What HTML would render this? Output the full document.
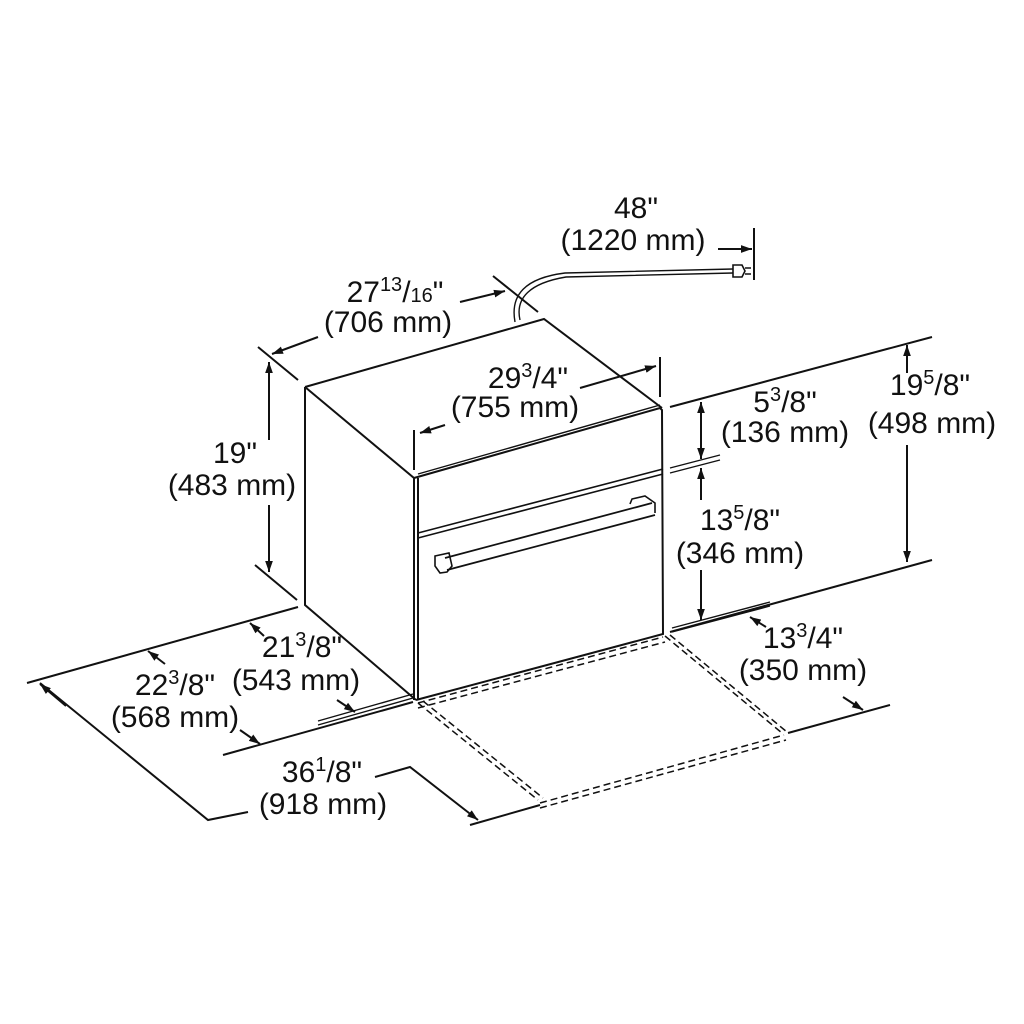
<!DOCTYPE html>
<html><head><meta charset="utf-8"><style>
html,body{margin:0;padding:0;background:#fff}
svg{display:block}
text{font-family:"Liberation Sans",Arial,sans-serif;font-size:30px;fill:#111;text-anchor:middle}
.s{font-size:20px}
</style></head><body>
<svg width="1024" height="1024" viewBox="0 0 1024 1024" xmlns="http://www.w3.org/2000/svg">
<defs>
<marker id="a" viewBox="0 0 10 10" refX="10" refY="5" markerWidth="11" markerHeight="11" orient="auto-start-reverse" markerUnits="userSpaceOnUse"><path d="M0,1.5 L10,5 L0,8.5 z" fill="#111"/></marker>
</defs>
<g stroke="#111" stroke-width="2" fill="none">
<path d="M305,387 L544,319 L662,408"/>
<path d="M305,387 L414,478"/>
<path d="M305,387 L305,605 L416,700"/>
<path d="M414,478 L660,408 L662,410 L663,634 L416,700"/>
<path d="M414,478 L414,700 M418,478 L418,700"/>
<path d="M418,474 L660,405" stroke-width="1.4"/>
<path d="M418,538 L663,474 M418,533 L663,469" stroke-width="1.6"/>
<path d="M447,570 L655,515 M445,558 L652,503" stroke-width="1.8"/>
<path d="M435,556 L449,553 L452,566 L447,572 L440,573 L435,566 Z M630,504 L632,499 L645,496 L655,503 L655,513" stroke-width="1.6"/>
<path d="M515,322 C510,295 525,278 565,273 L733,269 M520,320 C515,298 530,283 566,277 L733,273" stroke-width="1.4"/>
<path d="M733,265 L742,265 L745,271 L742,277 L733,277 Z M745,268 L751,268 M745,274 L751,274" stroke-width="1.6"/>
<path d="M754,228 L754,280"/>
<path d="M718,249 L752,249" marker-end="url(#a)"/>
<path d="M258,347 L298,380 M493,276 L538,312"/>
<path d="M318,337 L272,354" marker-end="url(#a)"/>
<path d="M460,302 L505,291" marker-end="url(#a)"/>
<path d="M255,565 L297,600"/>
<path d="M269,440 L269,362" marker-end="url(#a)"/>
<path d="M269,505 L269,572" marker-end="url(#a)"/>
<path d="M414,430 L414,470 M660,357 L660,397"/>
<path d="M445,425 L420,433" marker-end="url(#a)"/>
<path d="M580,388 L656,366" marker-end="url(#a)"/>
<path d="M670,407 L932,337"/>
<path d="M670,632 L932,560"/>
<path d="M670,468 L720,455 M670,473 L720,460" stroke-width="1.4"/>
<path d="M907,373 L907,345" marker-end="url(#a)"/>
<path d="M907,445 L907,562" marker-end="url(#a)"/>
<path d="M701,420 L701,402" marker-end="url(#a)"/>
<path d="M701,420 L701,459" marker-end="url(#a)"/>
<path d="M701,500 L701,468" marker-end="url(#a)"/>
<path d="M701,570 L701,620" marker-end="url(#a)"/>
<path d="M672,632 L770,606 M672,628 L770,602" stroke-width="1.4"/>
<path d="M27,683 L298,607"/>
<path d="M40,683 L208,820 L248,812"/>
<path d="M223,755 L413,702"/>
<path d="M318,725 L413,698 M318,721 L413,694" stroke-width="1.4"/>
<path d="M165,664 L148,651" marker-end="url(#a)"/>
<path d="M264,636 L250,623" marker-end="url(#a)"/>
<path d="M240,730 L260,744" marker-end="url(#a)"/>
<path d="M337,700 L355,712" marker-end="url(#a)"/>
<path d="M66,706 L40,684" marker-end="url(#a)"/>
<path d="M375,777 L410,767 L478,820" marker-end="url(#a)"/>
<path d="M470,825 L540,805"/>
<path d="M788,733 L890,705"/>
<path d="M843,697 L863,710" marker-end="url(#a)"/>
<path d="M766,627 L750,617" marker-end="url(#a)"/>
<g stroke-dasharray="7,4" stroke-width="1.5">
<path d="M418,703 L663,637 M418,708 L665,642"/>
<path d="M418,703 L538,800 M423,701 L543,798"/>
<path d="M540,803 L784,735 M540,808 L786,740"/>
<path d="M665,636 L782,733 M670,635 L787,732"/>
</g>
</g>
<text x="636" y="218">48"</text>
<text x="633" y="250">(1220 mm)</text>
<text x="395" y="302">27<tspan class="s" dy="-11">13</tspan><tspan dy="11">/</tspan><tspan class="s">16</tspan>"</text>
<text x="388" y="332">(706 mm)</text>
<text x="528" y="388">29<tspan class="s" dy="-11">3</tspan><tspan dy="11">/4"</tspan></text>
<text x="515" y="417">(755 mm)</text>
<text x="235" y="463">19"</text>
<text x="232" y="495">(483 mm)</text>
<text x="785" y="412">5<tspan class="s" dy="-11">3</tspan><tspan dy="11">/8"</tspan></text>
<text x="785" y="442">(136 mm)</text>
<text x="930" y="395">19<tspan class="s" dy="-11">5</tspan><tspan dy="11">/8"</tspan></text>
<text x="932" y="433">(498 mm)</text>
<text x="740" y="530">13<tspan class="s" dy="-11">5</tspan><tspan dy="11">/8"</tspan></text>
<text x="740" y="563">(346 mm)</text>
<text x="302" y="657">21<tspan class="s" dy="-11">3</tspan><tspan dy="11">/8"</tspan></text>
<text x="296" y="690">(543 mm)</text>
<text x="175" y="695">22<tspan class="s" dy="-11">3</tspan><tspan dy="11">/8"</tspan></text>
<text x="175" y="727">(568 mm)</text>
<text x="803" y="648">13<tspan class="s" dy="-11">3</tspan><tspan dy="11">/4"</tspan></text>
<text x="803" y="680">(350 mm)</text>
<text x="322" y="782">36<tspan class="s" dy="-11">1</tspan><tspan dy="11">/8"</tspan></text>
<text x="323" y="814">(918 mm)</text>
</svg>
</body></html>
